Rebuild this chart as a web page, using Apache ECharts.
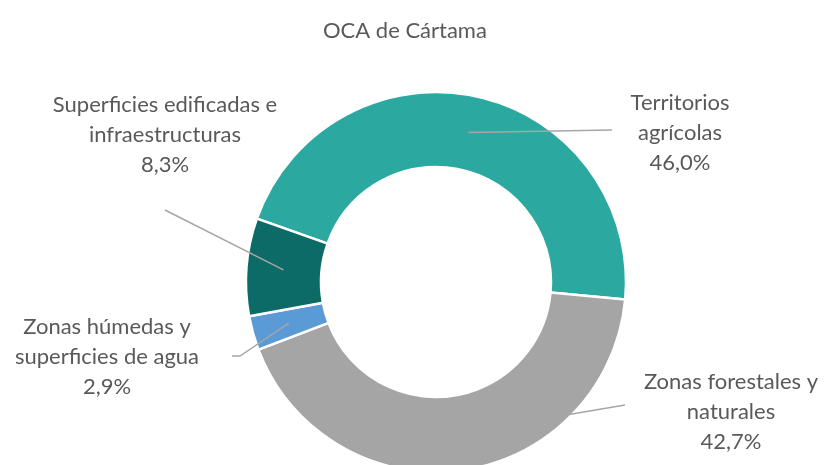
<!DOCTYPE html>
<html>
<head>
<meta charset="utf-8">
<script src="https://cdn.jsdelivr.net/npm/echarts@6/dist/echarts.min.js"></script>
<style>
  html, body { margin: 0; padding: 0; background: #fff; }
  #main { width: 825px; height: 465px; }
</style>
</head>
<body>
<div id="main"></div>
<script>
'use strict'

// chart data
const categories = [
    'Territorios\nagrícolas',
    'Zonas forestales y\nnaturales',
    'Zonas húmedas y\nsuperficies de agua',
    'Superficies edificadas e\ninfraestructuras'
];
const shares = [46.0, 42.7, 2.9, 8.3];
const colors = ['#2BA9A0', '#A5A5A5', '#5B9BD5', '#0C6B67'];

// where each label sits (center) and where its leader line ends, relative to it
const labelSpots = [
    { x: 680, y: 133, end: [[-68, -3]] },
    { x: 731, y: 412, end: [[-106, -7]] },
    { x: 107, y: 357, end: [[125, -1], [133, -1]] },
    { x: 165, y: 135, end: [[0, 75]] }
];

var myChart = echarts.init(document.getElementById('main'), null, { renderer: 'canvas' });

let pieData = categories.map((name, i) => ({
    name: name,
    value: shares[i],
    itemStyle: { color: colors[i] }
}));

let labelData = categories.map((name, i) => ({ name: name, value: shares[i] }));

var option = {
    animation: false,
    textStyle: { fontFamily: 'Lato' },
    title: {
        text: 'OCA de Cártama',
        left: 318,
        top: 15,
        textStyle: { fontFamily: 'Lato', fontSize: 22, fontWeight: 'normal', color: '#595959' }
    },
    series: [
        {
            type: 'pie',
            z: 2,
            center: [436, 282],
            radius: [115, 190],
            startAngle: 160.5,
            clockwise: true,
            silent: true,
            label: { show: false },
            labelLine: { show: false },
            itemStyle: { borderColor: '#ffffff', borderWidth: 2.5 },
            data: pieData
        },
        {
            // invisible ring used only to anchor labels in the middle of the band
            type: 'pie',
            z: 10,
            center: [436, 282],
            radius: [0, 153],
            startAngle: 160.5,
            clockwise: true,
            silent: true,
            avoidLabelOverlap: false,
            itemStyle: { color: 'rgba(0,0,0,0)' },
            label: {
                show: true,
                position: 'outside',
                fontFamily: 'Lato',
                fontSize: 22,
                lineHeight: 30,
                color: '#595959',
                formatter: (p) => p.name + '\n' + p.value.toFixed(1).replace('.', ',') + '%'
            },
            labelLine: {
                show: true,
                length: 10,
                length2: 10,
                lineStyle: { color: '#A6A6A6', width: 1.5 }
            },
            labelLayout: function (params) {
                let spot = labelSpots[params.dataIndex];
                let start = params.labelLinePoints[0];
                let pts = [[start[0], start[1]]];
                for (let i = spot.end.length - 1; i >= 0; i--) {
                    pts.push([spot.x + spot.end[i][0], spot.y + spot.end[i][1]]);
                }
                return {
                    x: spot.x,
                    y: spot.y,
                    align: 'center',
                    verticalAlign: 'middle',
                    labelLinePoints: pts
                };
            },
            data: labelData
        }
    ]
};

myChart.setOption(option);
</script>
</body>
</html>
